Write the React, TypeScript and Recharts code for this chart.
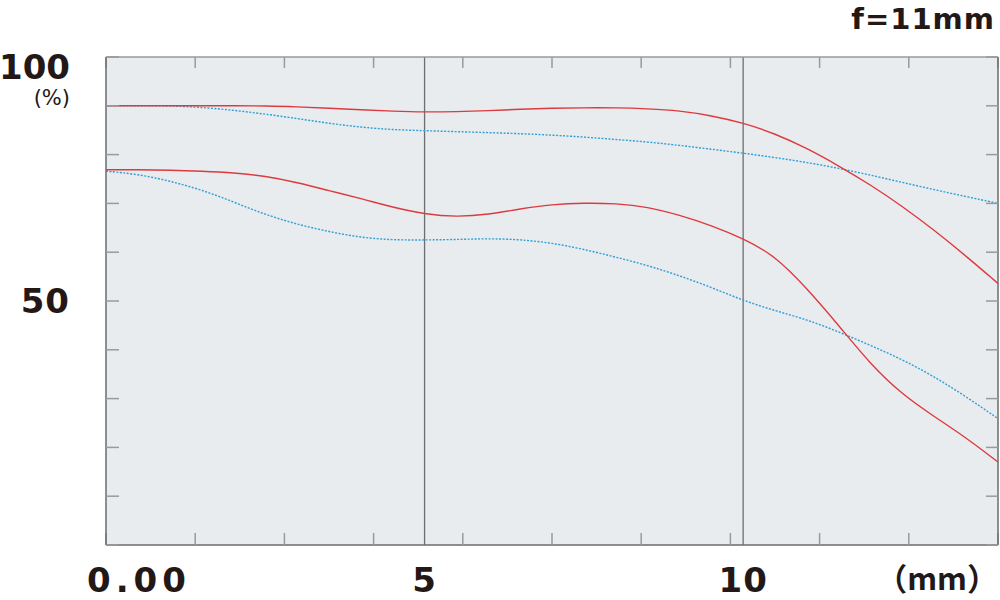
import React from "react";
import {
  LineChart,
  Line,
  XAxis,
  YAxis,
  CartesianGrid,
  ReferenceLine,
} from "recharts";

// image height (mm)
const xs = [0, 0.5, 1, 1.5, 2, 2.5, 3, 3.5, 4, 4.5, 5, 5.5, 6, 6.5, 7, 7.5, 8, 8.5, 9, 9.5, 10, 10.5, 11, 11.5, 12, 12.5, 13, 13.5, 14];

// MTF (%) - red solid / blue dotted, upper and lower pairs
const redHigh = [90.0, 90.0, 90.0, 90.0, 90.0, 90.0, 89.8, 89.5, 89.2, 88.9, 88.7, 88.8, 89.0, 89.3, 89.5, 89.6, 89.6, 89.4, 89.0, 88.0, 86.5, 84.3, 81.3, 77.7, 73.8, 69.4, 64.5, 59.2, 53.6];
const blueHigh = [90.0, 90.0, 90.0, 89.7, 89.1, 88.3, 87.4, 86.4, 85.6, 85.1, 84.9, 84.7, 84.5, 84.3, 84.0, 83.6, 83.1, 82.6, 81.9, 81.1, 80.3, 79.4, 78.4, 77.2, 75.8, 74.3, 72.8, 71.4, 70.0];
const redLow = [76.9, 76.9, 76.8, 76.6, 76.3, 75.6, 74.3, 72.6, 71.0, 69.2, 67.8, 67.2, 67.7, 68.9, 69.8, 70.1, 70.0, 69.3, 67.6, 65.5, 62.8, 59.3, 52.6, 45.0, 37.0, 30.8, 26.3, 22.0, 17.0];
const blueLow = [76.6, 76.0, 74.6, 72.8, 70.3, 67.7, 65.7, 64.2, 63.0, 62.5, 62.5, 62.6, 62.8, 62.6, 61.9, 60.6, 59.0, 57.3, 55.2, 52.8, 50.1, 48.0, 46.2, 43.7, 40.9, 38.0, 34.5, 30.4, 25.9];

const xLabelTicks = [0, 5, 10, 14];
const xLabels: Record<number, string> = { 0: "0.00", 5: "5", 10: "10", 14: "（mm）" };
const xMinorTicks = [0, 1.4, 2.8, 4.2, 5.6, 7, 8.4, 9.8, 11.2, 12.6, 14];
const yLabelTicks = [50, 100];
const yMinorTicks = [0, 10, 20, 30, 40, 50, 60, 70, 80, 90, 100];

const data = xs.map((x, i) => ({
  x,
  redHigh: redHigh[i],
  blueHigh: blueHigh[i],
  redLow: redLow[i],
  blueLow: blueLow[i],
}));

const RED = "#dd3a3f";
const BLUE = "#2f9fd8";
const INK = "#231815";
const FONT = "'DejaVu Sans', sans-serif";

const noLabel = () => <g />;

function XTick(props: any) {
  const { x, y, payload } = props;
  const v = payload.value;
  if (v === 14) {
    return (
      <text x={x} y={y + 45} textAnchor="end" fontFamily="'Noto Sans CJK JP', sans-serif" fontWeight={700} fontSize={31} fill={INK}>
        {xLabels[v]}
      </text>
    );
  }
  return (
    <text
      x={v === 0 ? x - 19 : x}
      y={y + 47}
      textAnchor={v === 0 ? "start" : "middle"}
      fontFamily={FONT}
      fontWeight={700}
      fontSize={34}
      letterSpacing={v === 0 ? 5 : 1}
      fill={INK}
    >
      {xLabels[v]}
    </text>
  );
}

function YTick(props: any) {
  const { x, y, payload } = props;
  if (payload.value === 100) {
    return (
      <g>
        <text x={x - 36} y={y + 22} textAnchor="end" fontFamily={FONT} fontWeight={700} fontSize={34} fill={INK}>
          100
        </text>
        <text x={x - 36} y={y + 48} textAnchor="end" fontFamily={FONT} fontSize={21} fill={INK}>
          (%)
        </text>
      </g>
    );
  }
  return (
    <text x={x - 36} y={y + 12} textAnchor="end" fontFamily={FONT} fontWeight={700} fontSize={34} letterSpacing={1} fill={INK}>
      {payload.value}
    </text>
  );
}

export default function App() {
  return (
    <div style={{ position: "absolute", left: 0, top: 0, width: 1000, height: 600, background: "#fff" }}>
      <div
        style={{
          position: "absolute",
          right: 5,
          top: 0,
          fontFamily: FONT,
          fontWeight: 700,
          fontSize: 29,
          letterSpacing: 1,
          color: INK,
          lineHeight: "38px",
        }}
      >
        f=11mm
      </div>
      <LineChart width={1000} height={600} data={data} margin={{ top: 57, right: 2, bottom: 0, left: 0 }}>
        <CartesianGrid xAxisId="x" yAxisId="y" horizontal={false} vertical={false} fill="#e8ecef" />
        <XAxis
          xAxisId="x"
          dataKey="x"
          type="number"
          domain={[0, 14]}
          ticks={xLabelTicks}
          interval={0}
          height={55}
          axisLine={false}
          tickLine={false}
          tickSize={0}
          tickMargin={0}
          tick={<XTick />}
        />
        <XAxis
          xAxisId="xb"
          dataKey="x"
          type="number"
          domain={[0, 14]}
          ticks={xMinorTicks}
          interval={0}
          mirror
          height={1}
          tick={noLabel}
          tickSize={12}
          axisLine={{ stroke: "#6b6b6b", strokeWidth: 1.5 }}
          tickLine={{ stroke: "#9a9a9a", strokeWidth: 1.5 }}
        />
        <XAxis
          xAxisId="xt"
          orientation="top"
          dataKey="x"
          type="number"
          domain={[0, 14]}
          ticks={xMinorTicks}
          interval={0}
          mirror
          height={1}
          tick={noLabel}
          tickSize={11}
          axisLine={{ stroke: "#9a9a9a", strokeWidth: 1.5 }}
          tickLine={{ stroke: "#9a9a9a", strokeWidth: 1.5 }}
        />
        <YAxis
          yAxisId="y"
          type="number"
          domain={[0, 100]}
          ticks={yLabelTicks}
          interval={0}
          width={106}
          axisLine={false}
          tickLine={false}
          tickSize={0}
          tickMargin={0}
          tick={<YTick />}
        />
        <YAxis
          yAxisId="yl"
          dataKey="redHigh"
          type="number"
          domain={[0, 100]}
          ticks={yMinorTicks}
          interval={0}
          mirror
          width={1}
          tick={noLabel}
          tickSize={13}
          axisLine={{ stroke: "#6b6b6b", strokeWidth: 1.5 }}
          tickLine={{ stroke: "#9a9a9a", strokeWidth: 1.5 }}
        />
        <YAxis
          yAxisId="yr"
          dataKey="redHigh"
          orientation="right"
          type="number"
          domain={[0, 100]}
          ticks={yMinorTicks}
          interval={0}
          mirror
          width={1}
          tick={noLabel}
          tickSize={12}
          axisLine={{ stroke: "#6b6b6b", strokeWidth: 1.5 }}
          tickLine={{ stroke: "#9a9a9a", strokeWidth: 1.5 }}
        />
        <ReferenceLine xAxisId="x" yAxisId="y" x={5} stroke="#6e6e6e" strokeWidth={1.3} />
        <ReferenceLine xAxisId="x" yAxisId="y" x={10} stroke="#6e6e6e" strokeWidth={1.3} />
        <Line xAxisId="x" yAxisId="y" type="basis" dataKey="blueHigh" stroke={BLUE} strokeWidth={1.4} strokeDasharray="2 1.5" dot={false} isAnimationActive={false} />
        <Line xAxisId="x" yAxisId="y" type="basis" dataKey="blueLow" stroke={BLUE} strokeWidth={1.4} strokeDasharray="2 1.5" dot={false} isAnimationActive={false} />
        <Line xAxisId="x" yAxisId="y" type="basis" dataKey="redHigh" stroke={RED} strokeWidth={1.4} dot={false} isAnimationActive={false} />
        <Line xAxisId="x" yAxisId="y" type="basis" dataKey="redLow" stroke={RED} strokeWidth={1.4} dot={false} isAnimationActive={false} />
      </LineChart>
    </div>
  );
}
